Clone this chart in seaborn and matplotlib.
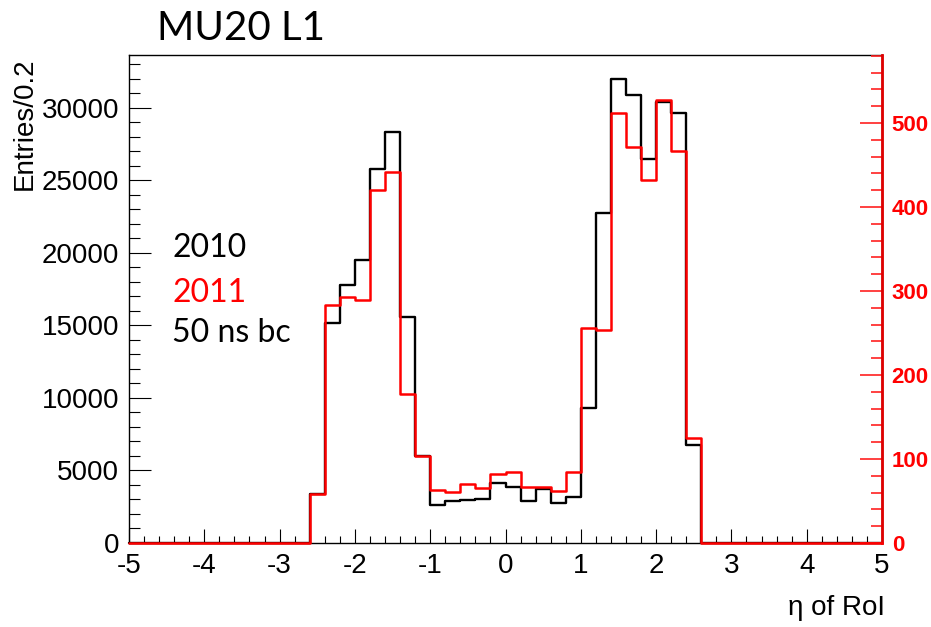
import numpy as np
import pandas as pd
import seaborn as sns
import matplotlib.pyplot as plt
from matplotlib.ticker import MultipleLocator

# eta bins of width 0.2 from -5 to 5
bin_lo = [-5.0, -4.8, -4.6, -4.4, -4.2, -4.0, -3.8, -3.6, -3.4, -3.2,
          -3.0, -2.8, -2.6, -2.4, -2.2, -2.0, -1.8, -1.6, -1.4, -1.2,
          -1.0, -0.8, -0.6, -0.4, -0.2, 0.0, 0.2, 0.4, 0.6, 0.8,
          1.0, 1.2, 1.4, 1.6, 1.8, 2.0, 2.2, 2.4, 2.6, 2.8,
          3.0, 3.2, 3.4, 3.6, 3.8, 4.0, 4.2, 4.4, 4.6, 4.8]

entries_2010 = [0, 0, 0, 0, 0, 0, 0, 0, 0, 0,
                0, 0, 3360, 15190, 17790, 19500, 25770, 28320, 15610, 6000,
                2620, 2920, 2970, 3010, 4120, 3890, 2900, 3700, 2740, 3150,
                9330, 22740, 32000, 30900, 26480, 30390, 29630, 6760, 0, 0,
                0, 0, 0, 0, 0, 0, 0, 0, 0, 0]

entries_2011 = [0, 0, 0, 0, 0, 0, 0, 0, 0, 0,
                0, 0, 58, 283, 293, 289, 420, 442, 177, 103,
                63, 61, 70, 65, 82, 84, 67, 67, 62, 84,
                256, 254, 512, 471, 432, 527, 467, 125, 0, 0,
                0, 0, 0, 0, 0, 0, 0, 0, 0, 0]

bin_width = 0.2

# step outline: every lower edge plus the final upper edge
step_x = bin_lo + [bin_lo[-1] + bin_width]
df = pd.DataFrame({"eta": step_x,
                   "n2010": entries_2010 + [entries_2010[-1]],
                   "n2011": entries_2011 + [entries_2011[-1]]})

sns.set_style("ticks")
plt.rcParams["font.family"] = ["Liberation Sans", "DejaVu Sans"]
plt.rcParams["axes.unicode_minus"] = False
plt.rcParams["text.color"] = "black"
plt.rcParams["xtick.color"] = "black"
plt.rcParams["ytick.color"] = "black"
plt.rcParams["path.simplify"] = False

fig = plt.figure(figsize=(9.31, 6.27), dpi=100)
fig.subplots_adjust(left=129 / 931, right=882 / 931,
                    bottom=1 - 543 / 627, top=1 - 55 / 627)
ax = fig.add_subplot(111)

sns.lineplot(data=df, x="eta", y="n2010", drawstyle="steps-post",
             estimator=None, color="black", linewidth=1.7, ax=ax)
ax.set_xlim(-5, 5)
ax.set_ylim(0, 33650)
ax.set_xlabel("")
ax.set_ylabel("")

ax2 = ax.twinx()
ax2.set_zorder(ax.get_zorder() + 1)
ax2.patch.set_visible(False)
sns.lineplot(data=df, x="eta", y="n2011", drawstyle="steps-post",
             estimator=None, color="#ff0000", linewidth=1.8, ax=ax2)
ax2.set_xlim(-5, 5)
ax2.set_ylim(0, 581)
ax2.set_ylabel("")
ax2.set_xlabel("")
for line in ax.lines + ax2.lines:
    line.set_clip_on(False)
for line in ax.lines:
    line.set_zorder(1)
for line in ax2.lines:
    line.set_zorder(5)

# ROOT-like frame and ticks
for sp in ax.spines.values():
    sp.set_visible(True)
    sp.set_linewidth(1.0)
    sp.set_color("black")
for name, sp in ax2.spines.items():
    sp.set_visible(name == "right")
ax2.spines["right"].set_color("#e00000")
ax2.spines["right"].set_linewidth(2.0)
ax2.spines["right"].set_zorder(4)

ax.xaxis.set_major_locator(MultipleLocator(1))
ax.xaxis.set_minor_locator(MultipleLocator(0.2))
ax.yaxis.set_major_locator(MultipleLocator(5000))
ax.yaxis.set_minor_locator(MultipleLocator(1000))
ax2.yaxis.set_major_locator(MultipleLocator(100))
ax2.yaxis.set_minor_locator(MultipleLocator(20))

ax.tick_params(axis="x", which="both", direction="in", bottom=True, top=False,
               labelsize=20, pad=7, width=0.8, color="black",
               labelcolor="black")
ax.tick_params(axis="x", which="major", length=10)
ax.tick_params(axis="x", which="minor", length=5)
ax.tick_params(axis="y", which="both", direction="in", left=True, right=False,
               labelsize=20, pad=7, width=0.8, color="black",
               labelcolor="black")
ax.tick_params(axis="y", which="major", length=16)
ax.tick_params(axis="y", which="minor", length=8)
ax2.tick_params(axis="y", which="both", direction="in", right=True, left=False,
                labelsize=16, pad=7, width=1.2, color="#ff2020",
                labelcolor="#ff0000")
ax2.tick_params(axis="y", which="major", length=16)
ax2.tick_params(axis="y", which="minor", length=8)
for lbl in ax2.get_yticklabels():
    lbl.set_fontweight("bold")

fig.text(157 / 931, 1 - 40 / 627, "MU20 L1", family=["Lato", "DejaVu Sans"],
         fontsize=29, ha="left", va="baseline")
fig.text(25 / 931, 1 - 57 / 627, "Entries/0.2", rotation=90, fontsize=20,
         ha="center", va="top")
fig.text(885 / 931, 1 - 608 / 627, "η of RoI", fontsize=20,
         ha="right", va="center")

legend_lines = [("2010", "black", 257), ("2011", "#ff0000", 302),
                ("50 ns bc", "black", 342)]
for txt, col, base in legend_lines:
    fig.text(172 / 931, 1 - base / 627, txt, color=col, fontsize=23,
             family=["Lato", "DejaVu Sans"], ha="left", va="baseline")

plt.savefig("out.png", dpi=100)
plt.close()
